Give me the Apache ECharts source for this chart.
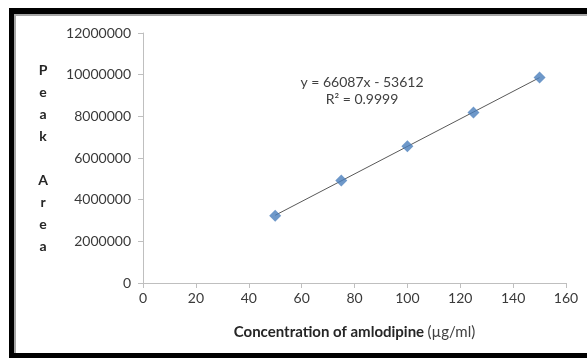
<!DOCTYPE html>
<html><head><meta charset="utf-8">
<script src="https://cdn.jsdelivr.net/npm/echarts@6/dist/echarts.min.js"></script>
<style>html,body{margin:0;padding:0;background:#fff}#c{width:587px;height:358px}</style>
</head><body><div id="c"></div>
<script>
var concentrations = [50, 75, 100, 125, 150];
var peakAreas = [3230000, 4920000, 6570000, 8190000, 9870000];
var trendX = [50, 150];
var trendY = [3250738, 9859438];
var equationText = 'y = 66087x - 53612';
var r2Text = 'R² = 0.9999';
var yTitle = ['P','e','a','k','','A','r','e','a'];

var chart = echarts.init(document.getElementById('c'));
var F = 'Lato, "Open Sans", sans-serif';
chart.setOption({
  animation: false,
  backgroundColor: '#fff',
  grid: {left: 143, right: 21, top: 33, bottom: 75},
  xAxis: {
    type: 'value', min: 0, max: 160, interval: 20,
    axisLine: {show: true, lineStyle: {color: '#bfbfbf'}},
    axisTick: {show: true, length: 5, lineStyle: {color: '#bfbfbf'}},
    splitLine: {show: false},
    axisLabel: {color: '#3a3a3a', fontFamily: F, fontSize: 14, margin: 8},
    name: '{b|Concentration of amlodipine} {n|(µg/ml)}',
    nameLocation: 'middle', nameGap: 42,
    nameTextStyle: {rich: {
      b: {fontFamily: F, fontSize: 15, fontWeight: 'bold', color: '#262626'},
      n: {fontFamily: F, fontSize: 15, color: '#404040'}
    }}
  },
  yAxis: {
    type: 'value', min: 0, max: 12000000, interval: 2000000,
    axisLine: {show: true, lineStyle: {color: '#bfbfbf'}},
    axisTick: {show: true, length: 5, lineStyle: {color: '#bfbfbf'}},
    splitLine: {show: false},
    axisLabel: {color: '#3a3a3a', fontFamily: F, fontSize: 14, margin: 12,
      formatter: function(v){ return String(v); }},
    name: yTitle.join('\n'),
    nameLocation: 'middle', nameRotate: 0, nameGap: 100,
    nameTextStyle: {fontFamily: F, fontSize: 14, fontWeight: 'bold', color: '#262626', lineHeight: 22, align: 'center'}
  },
  series: [
    {type: 'line', data: trendX.map(function(x,i){return [x, trendY[i]];}),
     showSymbol: false, symbol: 'none', lineStyle: {color: '#595959', width: 1}, z: 1},
    {type: 'scatter', data: concentrations.map(function(x,i){return [x, peakAreas[i]];}),
     symbol: 'diamond', symbolSize: 12, itemStyle: {color: '#4a7ebb'}, z: 2}
  ],
  graphic: [
    {type: 'rect', shape: {x: 9, y: 8, width: 578, height: 6}, style: {fill: '#000'}},
    {type: 'rect', shape: {x: 9, y: 8, width: 5, height: 350}, style: {fill: '#000'}},
    {type: 'rect', shape: {x: 9, y: 353, width: 578, height: 5}, style: {fill: '#000'}},
    {type: 'rect', shape: {x: 14, y: 14, width: 573, height: 2}, style: {fill: '#a6a6a6'}},
    {type: 'rect', shape: {x: 14, y: 14, width: 2, height: 339}, style: {fill: '#a6a6a6'}},
    {type: 'text', x: 362, y: 82, style: {text: equationText, fontFamily: F, fontSize: 14, fill: '#404040', align: 'center', verticalAlign: 'middle'}},
    {type: 'text', x: 362, y: 99, style: {text: r2Text, fontFamily: F, fontSize: 14, fill: '#404040', align: 'center', verticalAlign: 'middle'}}
  ]
});
</script></body></html>
